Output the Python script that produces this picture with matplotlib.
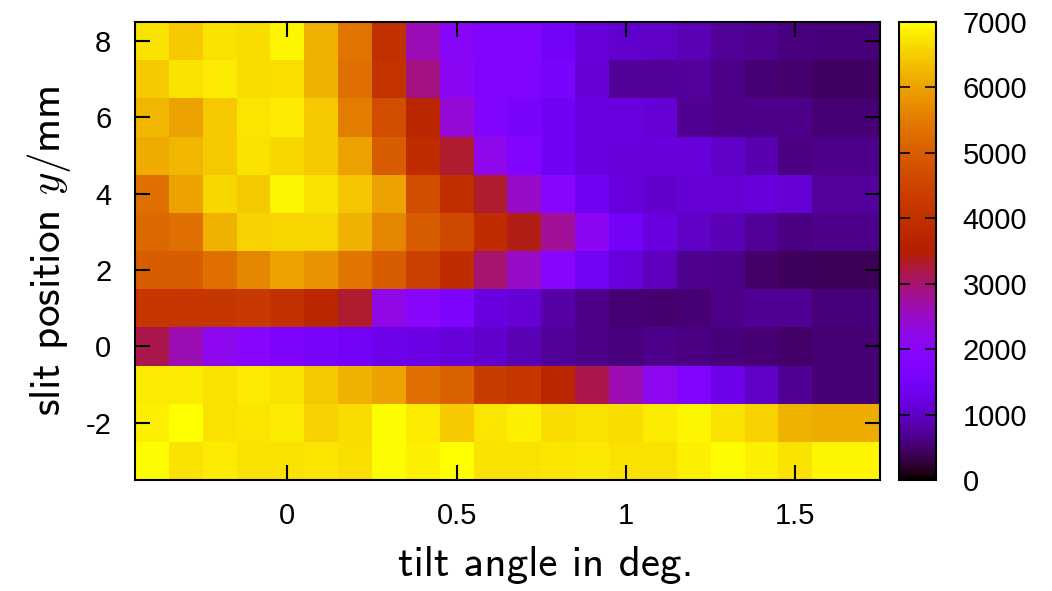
import numpy as np
import matplotlib
matplotlib.use("Agg")
import matplotlib.pyplot as plt

# tilt angle (deg) cell centres and slit position (mm) cell centres
tilt_angles = [-0.4, -0.3, -0.2, -0.1, 0.0, 0.1, 0.2, 0.3, 0.4, 0.5, 0.6,
               0.7, 0.8, 0.9, 1.0, 1.1, 1.2, 1.3, 1.4, 1.5, 1.6, 1.7]
slit_positions = [8, 7, 6, 5, 4, 3, 2, 1, 0, -1, -2, -3]

# intensity rows, from top (y=8) to bottom (y=-3)
row_y8 = [6700, 6450, 6700, 6650, 6900, 6200, 5400, 4000, 2600, 2000, 1800,
          1800, 1500, 1150, 1050, 1000, 900, 720, 660, 600, 550, 550]
row_y7 = [6450, 6700, 6800, 6650, 6680, 6200, 5300, 4100, 2900, 2100, 1800,
          1800, 1600, 1100, 720, 720, 750, 650, 540, 500, 440, 440]
row_y6 = [6250, 6000, 6450, 6750, 6800, 6450, 5500, 4700, 3700, 2400, 1800,
          1600, 1400, 1200, 1200, 1100, 700, 640, 640, 640, 520, 520]
row_y5 = [6100, 6250, 6450, 6700, 6600, 6450, 6000, 5000, 3900, 3300, 2200,
          1800, 1400, 1200, 1150, 1150, 1150, 1000, 850, 620, 650, 650]
row_y4 = [5300, 6000, 6600, 6450, 6900, 6700, 6400, 6000, 4700, 3950, 3300,
          2500, 1950, 1400, 1150, 1050, 1100, 1100, 1150, 1100, 740, 740]
row_y3 = [5200, 5300, 6200, 6550, 6580, 6580, 6200, 5650, 5000, 4600, 3900,
          3400, 2800, 2100, 1450, 1200, 1000, 900, 720, 620, 650, 650]
row_y2 = [5000, 5000, 5300, 5650, 6000, 5800, 5400, 5000, 4450, 3900, 3000,
          2500, 1950, 1450, 1150, 950, 680, 630, 480, 420, 390, 390]
row_y1 = [4200, 4150, 4200, 4250, 4050, 3700, 3300, 2250, 1950, 1700, 1200,
          1100, 800, 650, 520, 500, 520, 640, 700, 700, 570, 570]
row_y0 = [3150, 2650, 2150, 1950, 1700, 1600, 1450, 1300, 1250, 1150, 1050,
          900, 720, 650, 600, 640, 620, 570, 530, 490, 520, 520]
row_ym1 = [6800, 6800, 6700, 6800, 6700, 6450, 6200, 6000, 5300, 5100, 4300,
           4200, 3700, 3150, 2650, 2150, 1800, 1300, 1000, 700, 520, 520]
row_ym2 = [6850, 6980, 6700, 6750, 6800, 6550, 6650, 6950, 6800, 6450, 6750,
           6850, 6650, 6700, 6650, 6800, 6900, 6700, 6550, 6200, 6100, 6100]
row_ym3 = [6950, 6700, 6800, 6700, 6700, 6750, 6680, 6950, 6850, 6980, 6720,
           6720, 6750, 6780, 6700, 6720, 6850, 6950, 6850, 6720, 6900, 6900]

rows = [row_y8, row_y7, row_y6, row_y5, row_y4, row_y3,
        row_y2, row_y1, row_y0, row_ym1, row_ym2, row_ym3]

x_ticks = [0, 0.5, 1, 1.5]
x_tick_labels = ["0", "0.5", "1", "1.5"]
y_ticks = [-2, 0, 2, 4, 6, 8]
y_tick_labels = ["-2", "0", "2", "4", "6", "8"]
cbar_ticks = [0, 1000, 2000, 3000, 4000, 5000, 6000, 7000]

plt.rcParams["mathtext.fontset"] = "cm"

fig = plt.figure(figsize=(10.52, 5.91), dpi=100)
ax = fig.add_axes([135 / 1052, 1 - 480 / 591, 745 / 1052, 458 / 591])
cax = fig.add_axes([899 / 1052, 1 - 480 / 591, 37 / 1052, 458 / 591])

Z = np.array(rows, dtype=float)
X = np.array(tilt_angles)
Y = np.array(slit_positions, dtype=float)
mesh = ax.pcolormesh(X, Y, Z, cmap="gnuplot", vmin=0, vmax=7000,
                     shading="nearest")
ax.set_xlim(-0.45, 1.75)
ax.set_ylim(-3.5, 8.5)

tick_font = dict(family="Liberation Sans", size=21)
ax.set_xticks(x_ticks)
ax.set_xticklabels(x_tick_labels, fontdict=tick_font)
ax.set_yticks(y_ticks)
ax.set_yticklabels(y_tick_labels, fontdict=tick_font)
ax.tick_params(direction="in", length=11, width=1.5, top=True, right=True,
               color="black")
ax.tick_params(axis="x", pad=16)
ax.tick_params(axis="y", pad=17)
for s in ax.spines.values():
    s.set_linewidth(1.5)

ax.set_xlabel("tilt angle in deg.", family="cmss10", fontsize=31, labelpad=11)
ax.xaxis.label.set_x(0.552)
ax.set_ylabel(r"slit position $y$/mm", family="cmss10", fontsize=31,
              labelpad=9)

cb = fig.colorbar(mesh, cax=cax, ticks=cbar_ticks)
cb.ax.set_yticklabels([str(t) for t in cbar_ticks], fontdict=tick_font)
cb.ax.tick_params(direction="in", length=8, width=1.2, left=True, right=True,
                  pad=19)
cb.outline.set_linewidth(1.5)

fig.savefig("out.png", dpi=100)
